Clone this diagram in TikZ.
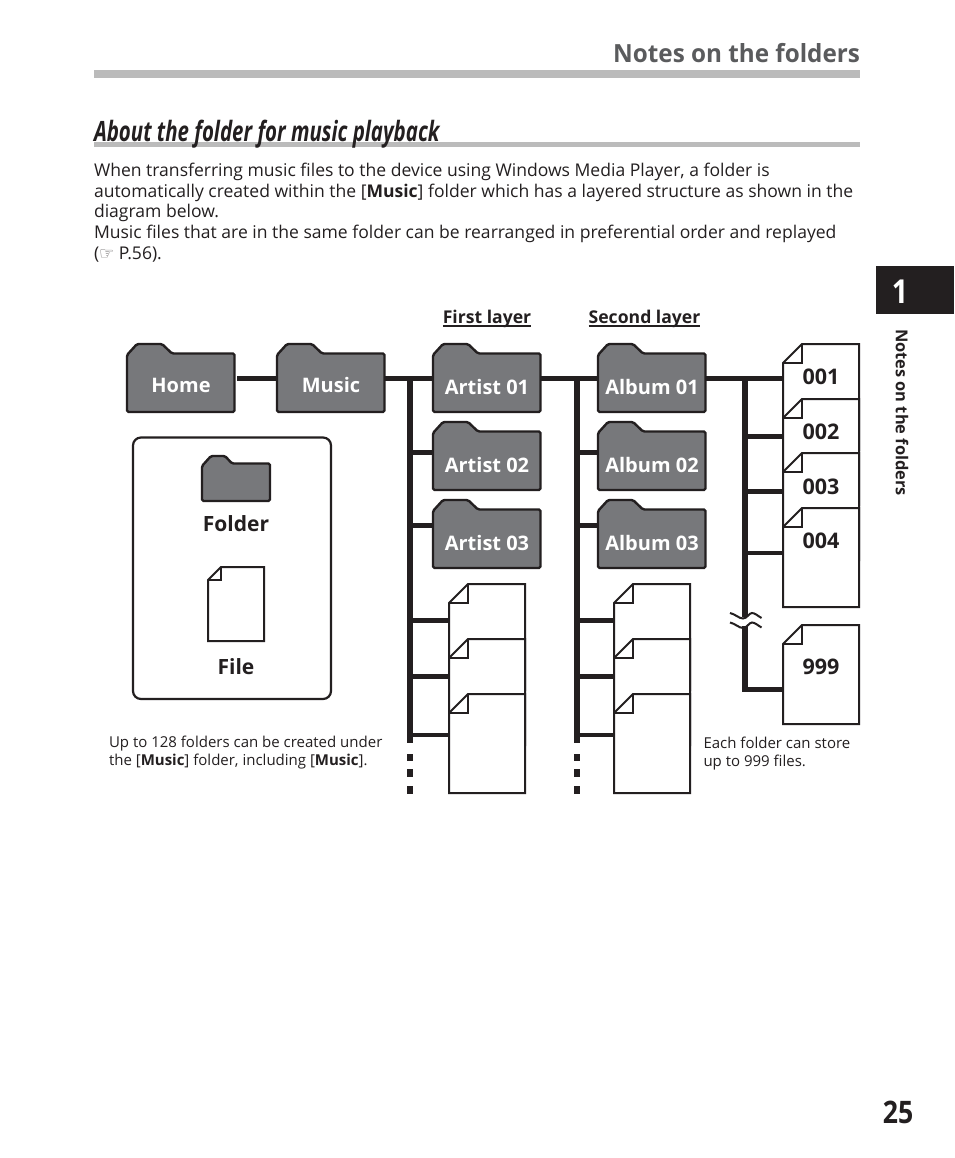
\documentclass[tikz,border=0pt]{standalone}
\usepackage{fontspec}
\setmainfont{Open Sans}
\newfontfamily\titlef[FakeStretch=0.97]{Open Sans}
\newfontfamily\sectf[FakeStretch=0.73]{Open Sans}
\newfontfamily\numf[FakeStretch=0.86]{Open Sans}
\newfontfamily\symf{DejaVu Sans}
\definecolor{ink}{HTML}{231F20}
\definecolor{fold}{HTML}{77787B}
\definecolor{bar}{HTML}{BBBBBB}
\definecolor{headgrey}{HTML}{5A5B5D}
\newcommand{\sz}[1]{\fontsize{#1}{#1}\selectfont}
\tikzset{
  x=1pt,y=-1pt,
  every node/.style={inner sep=0pt,outer sep=0pt,text=ink},
  foldshape/.style={draw=ink,fill=fold,line width=2.4pt,rounded corners=1.5pt},
  sheet/.style={draw=ink,fill=white,line width=2pt},
  trunk/.style={draw=ink,line width=5.2pt},
  branch/.style={draw=ink,line width=5pt},
  foldlabel/.style={text=white,font=\bfseries\sz{20}},
  filelabel/.style={font=\bfseries\sz{21}},
  numlabel/.style={font=\bfseries\sz{21.5}},
  bodyline/.style={anchor=base west,font=\sz{17.55}},
  capline/.style={anchor=base west,font=\sz{15}},
  layerlabel/.style={font=\bfseries\sz{17.6}},
}
% name, left, tab top, bottom, label, label centre y
\newcommand{\folderbox}[6]{%
  \path[foldshape] (#2,355) ++(0,#3-343) -- ++(10,-11) -- ++(25,0) -- ++(10,9.5)
     -- (#2+107.5,#3+10.5) -- (#2+107.5,#4) -- (#2,#4) -- cycle;
  \node[rectangle,minimum width=108pt,minimum height=#4-#3-10,anchor=north west] (#1) at (#2,#3+10) {};
  \node[foldlabel] (#1t) at (#2+54,#6) {#5};
}
% name, left, top, bottom, label, label centre y
\newcommand{\filebox}[6]{%
  \path[sheet,line join=miter] (#2,#3+19) -- (#2+19,#3) -- (#2+76,#3) -- (#2+76,#4) -- (#2,#4) -- cycle;
  \draw[sheet,fill=none] (#2,#3+19) -- (#2+19,#3+19) -- (#2+19,#3);
  \node[rectangle,minimum width=76pt,minimum height=#4-#3,anchor=north west] (#1) at (#2,#3) {};
  \node[numlabel] (#1t) at (#2+38,#6) {#5};
}
\begin{document}
\begin{tikzpicture}
\useasboundingbox (0,0) rectangle (954,1158);
\fill[white] (0,0) rectangle (954,1158);
% page furniture
\node[anchor=base east,text=headgrey,font=\titlef\bfseries\sz{25}] (title) at (860,63) {Notes on the folders};
\fill[bar] (94,70) rectangle (860,78);
\fill[bar] (94,142) rectangle (860,147);
\node[anchor=base west,font=\sectf\bfseries\itshape\sz{28}] (sect) at (94,141.5) {About the folder for music playback};
\node[bodyline] (b1) at (94,177) {When transferring music files to the device using Windows Media Player, a folder is};
\node[bodyline] (b2) at (94,197.5) {automatically created within the [{\bfseries Music}] folder which has a layered structure as shown in the};
\node[bodyline] (b3) at (94,218) {diagram below.};
\node[bodyline] (b4) at (94,238.5) {Music files that are in the same folder can be rearranged in preferential order and replayed};
\node[bodyline] (b5) at (94,259) {({\symf\sz{17}\textcolor{ink!70}{☞}} P.56).};
\fill[ink] (876,266) rectangle (954,314);
\node[text=white,font=\numf\bfseries\sz{33}] (tabn) at (900,292) {1};
\node[rotate=-90,anchor=north west,font=\bfseries\sz{16.4}] (side) at (908.5,329) {Notes on the folders};
\node[font=\numf\bfseries\sz{31}] (pageno) at (898,1112) {25};
% layer titles
\node[layerlabel] (l1) at (487,318.5) {First layer};
\node[layerlabel] (l2) at (644.5,318.5) {Second layer};
\draw[ink,line width=1.2pt] (l1.west |- 0,326) -- (l1.east |- 0,326);
\draw[ink,line width=1.2pt] (l2.west |- 0,326) -- (l2.east |- 0,326);
% trunk anchors
\coordinate (ta) at (410,378.5);
\coordinate (tb) at (577,378.5);
\coordinate (tc) at (745,378.5);
\coordinate (tae) at (410,743);
\coordinate (tbe) at (577,743);
\coordinate (tce) at (745,691.5);
% trunks first
\draw[trunk] (ta) -- (tae);
\draw[trunk] (tb) -- (tbe);
\draw[trunk] (tc) -- (tce);
\foreach \tx/\n in {410/d,577/e}{
  \foreach \ya/\yb [count=\i] in {753.5/761,769/777,786/794}{
    \fill[ink] (\tx-2.8,\ya) rectangle (\tx+2.8,\yb);
  }
}
% folders
\folderbox{home}{127}{343}{412}{Home}{385}
\folderbox{music}{277}{343}{412}{Music}{385}
\folderbox{a1}{433}{343}{412}{Artist 01}{387}
\folderbox{a2}{433}{421}{490}{Artist 02}{465}
\folderbox{a3}{433}{499}{568}{Artist 03}{543}
\folderbox{m1}{598}{343}{412}{Album 01}{387}
\folderbox{m2}{598}{421}{490}{Album 02}{465}
\folderbox{m3}{598}{499}{568}{Album 03}{543}
% files
\filebox{fa1}{449}{584}{690}{}{640}
\filebox{fa2}{449}{639}{745}{}{690}
\filebox{fa3}{449}{694}{793}{}{745}
\filebox{fb1}{614}{584}{690}{}{640}
\filebox{fb2}{614}{639}{745}{}{690}
\filebox{fb3}{614}{694}{793}{}{745}
\filebox{f1}{783}{344}{450}{001}{377}
\filebox{f2}{783}{399}{505}{002}{432}
\filebox{f3}{783}{453}{560}{003}{487}
\filebox{f4}{783}{508}{607}{004}{541}
\filebox{f9}{783}{625}{724}{999}{667}
% connectors
\coordinate (hm) at (237,378.5);
\draw[branch] (hm) -- (music.west |- hm);
\draw[branch] (music.east |- ta) -- (a1.west |- ta);
\draw[branch] (a1.east |- tb) -- (m1.west |- tb);
\draw[branch] (m1.east |- tc) -- (f1.west |- tc);
\foreach \c/\y/\t in {a2/452/ta,a3/525/ta,m2/452/tb,m3/525/tb,
    fa1/620.7/ta,fa2/676/ta,fb1/620.7/tb,fb2/676/tb,
    f2/436/tc,f3/491/tc,f9/689/tc}{
  \coordinate (j) at (0,\y);
  \draw[branch] (\t |- j) -- (\c.west |- j);
}
\foreach \c/\y/\t in {fa3/735/ta,fb3/735/tb,f4/553/tc}{
  \coordinate (j) at (0,\y);
  \draw[draw=ink,line width=4pt] (\t |- j) -- (\c.west |- j);
}
% break mark on the third trunk
\fill[white] (738,617) rectangle (752,626);
\draw[ink,line width=2pt] (730,613) .. controls (735,614) and (739,618.5) .. (743,618.5) .. controls (747,618.5) and (749,613) .. (752,613) .. controls (755,613) and (758,616) .. (761.5,618);
\draw[ink,line width=2pt] (730,622.5) .. controls (735,623.5) and (739,628) .. (743,628) .. controls (747,628) and (749,622.5) .. (752,622.5) .. controls (755,622.5) and (758,625.5) .. (761.5,627.5);
% legend
\draw[ink,line width=2.2pt,rounded corners=8pt,fill=white] (133,437.5) rectangle (331,699);
\path[foldshape] (202,466) -- (211,456) -- (225,456) -- (232,463.5) -- (270,463.5) -- (270,501) -- (202,501) -- cycle;
\node[filelabel] (lf) at (236,524) {Folder};
\path[sheet] (208,580) -- (221,567) -- (264,567) -- (264,641) -- (208,641) -- cycle;
\draw[sheet,fill=none] (208,580) -- (221,580) -- (221,567);
\node[filelabel] (lg) at (236,667) {File};
% captions
\node[capline] (c1) at (109,747) {Up to 128 folders can be created under};
\node[capline] (c2) at (109,765) {the [{\bfseries Music}] folder, including [{\bfseries Music}].};
\node[capline] (c3) at (703.5,748) {Each folder can store};
\node[capline] (c4) at (703.5,766) {up to 999 files.};
\end{tikzpicture}
\end{document}
